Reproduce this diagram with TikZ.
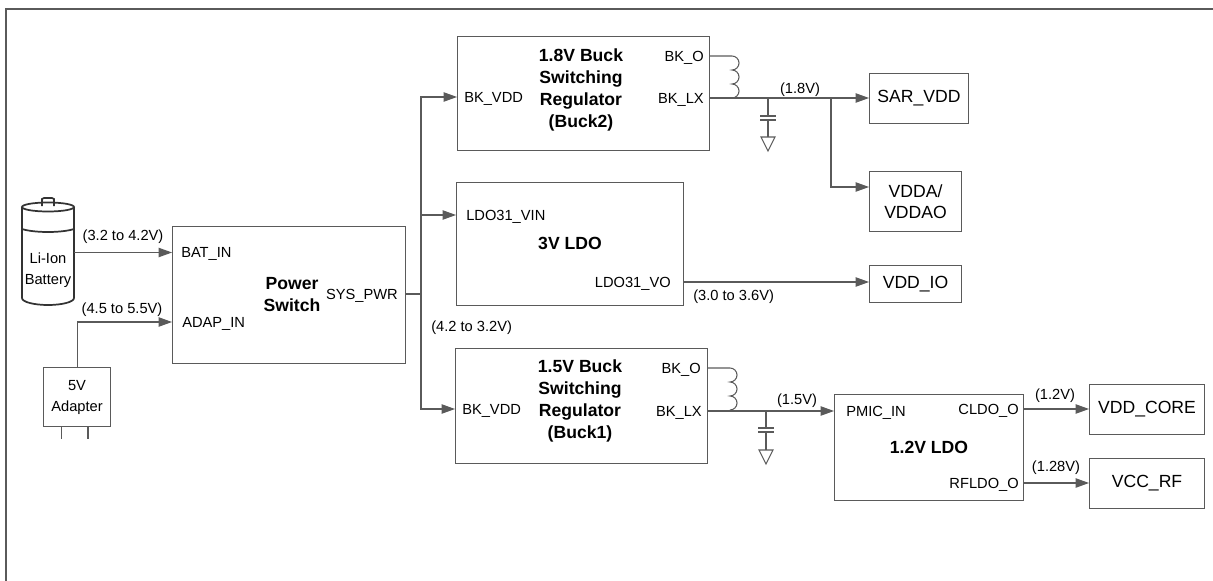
\documentclass[tikz,border=0pt]{standalone}
\usepackage{fontspec}
\setmainfont{Liberation Sans}
\usetikzlibrary{positioning,arrows.meta}
\definecolor{wirecol}{HTML}{5A5A5A}
\newcommand{\coilpath}{arc[start angle=-90,end angle=90,radius=7] arc[start angle=-90,end angle=90,radius=7] arc[start angle=-90,end angle=90,radius=7]}

\begin{document}
\begin{tikzpicture}[
                x=0.75pt, y=-0.75pt,
                box/.style={draw=wirecol, line width=0.8pt, anchor=north west, inner sep=0pt},
                loadbox/.style={box, align=center, font=\fontsize{13.2}{15.75}\selectfont},
                title/.style={align=center, inner sep=0pt, font=\fontsize{13.2}{16.5}\selectfont\bfseries},
                pinl/.style={anchor=west, inner sep=0pt, text height=8pt, text depth=0pt, font=\fontsize{11}{13}\selectfont},
                pinr/.style={pinl, anchor=east},
                volt/.style={inner sep=0pt, font=\fontsize{11}{13}\selectfont},
                small/.style={align=center, inner sep=0pt, font=\fontsize{11}{15.75}\selectfont},
                wire/.style={draw=wirecol, line width=0.8pt},
                cell/.style={draw=black!80, line width=1.3pt},
                arrow/.style={wire, -{Triangle[length=10pt,width=7pt]}}
            ]
                \useasboundingbox (0,0) rectangle (1213,581);
                \draw[wire] (6,581) -- (6,9) -- (1213,9);

                % Inputs
                \node[small, minimum width=39pt, minimum height=69pt] (battery) at (48,270) {Li-Ion\\Battery};
                \draw[cell, fill=white] (42,206) -- (42,199) -- (44,198) -- (52,198) -- (54,199) -- (54,206);
                \draw[cell] (48,207) ellipse [x radius=26, y radius=4.5];
                \draw[cell] (22,207) -- (22,298) arc[start angle=180,end angle=0,x radius=26,y radius=7] -- (74,207);
                \draw[cell] (22,229) .. controls (34,233) and (62,233) .. (74,229);
                \node[box, small, minimum width=50.25pt, minimum height=44.25pt] (adapter) at (43,367) {5V\\Adapter};
                \draw[wire] (61.5,426) -- (61.5,439) (88,426) -- (88,439);

                % Power switch
                \node[box, minimum width=174.75pt, minimum height=102.75pt] (pwr) at (172,226) {};
                \node[title] (pwrname) at (292,295) {Power\\Switch};
                \node[pinl] (batin) at (181,252.5) {BAT\_IN};
                \node[pinl] (adapin) at (182,322) {ADAP\_IN};
                \node[pinr] (syspwr) at (398,294) {SYS\_PWR};
                \node[volt] (vbat) at (123,237) {(3.2 to 4.2V)};
                \node[volt] (vadap) at (122,310) {(4.5 to 5.5V)};
                \node[volt, anchor=west] (vsys) at (431,328) {(4.2 to 3.2V)};

                \draw[arrow] (74,252.5) -- (pwr.west |- batin);
                \draw[arrow] (adapter.north) |- (pwr.west |- adapin);

                % Buck2
                \node[box, minimum width=189pt, minimum height=85.5pt] (buckb) at (457,36) {};
                \node[title] (buckbname) at (581,90) {1.8V Buck\\Switching\\Regulator\\(Buck2)};
                \node[pinl] (buckbvdd) at (464,97) {BK\_VDD};
                \node[pinr] (buckbo) at (704,56) {BK\_O};
                \node[pinr] (buckblx) at (704,98) {BK\_LX};
                \node[volt] (vbuckb) at (800,90) {(1.8V)};

                % 3V LDO
                \node[box, minimum width=170.25pt, minimum height=92.25pt] (ldoa) at (456,182) {};
                \node[title] (ldoaname) at (570,243) {3V LDO};
                \node[pinl] (ldoavin) at (466,215) {LDO31\_VIN};
                \node[pinr] (ldoavo) at (671,282) {LDO31\_VO};
                \node[volt, anchor=west] (vldoa) at (693,297) {(3.0 to 3.6V)};

                % Buck1
                \node[box, minimum width=189pt, minimum height=86.25pt] (bucka) at (455,348) {};
                \node[title] (buckaname) at (580,401) {1.5V Buck\\Switching\\Regulator\\(Buck1)};
                \node[pinl] (buckavdd) at (462,409) {BK\_VDD};
                \node[pinr] (buckao) at (701,368) {BK\_O};
                \node[pinr] (buckalx) at (702,411) {BK\_LX};
                \node[volt] (vbucka) at (797,401) {(1.5V)};

                % 1.2V LDO
                \node[box, minimum width=141.75pt, minimum height=79.5pt] (ldob) at (834,394) {};
                \node[title] (ldobname) at (929,447) {1.2V LDO};
                \node[pinl] (pmicin) at (846,411) {PMIC\_IN};
                \node[pinr] (cldoo) at (1019,409) {CLDO\_O};
                \node[pinr] (rfldoo) at (1019,483) {RFLDO\_O};
                \node[volt] (vcore) at (1055,396) {(1.2V)};
                \node[volt] (vrf) at (1056,468) {(1.28V)};

                % Loads
                \node[loadbox, minimum width=74.25pt, minimum height=37.5pt] (sar) at (869,73) {SAR\_VDD};
                \node[loadbox, minimum width=69pt, minimum height=45pt] (vdda) at (869,171) {VDDA/\\VDDAO};
                \node[loadbox, minimum width=69pt, minimum height=27.75pt] (vddio) at (869,265) {VDD\_IO};
                \node[loadbox, minimum width=86.25pt, minimum height=37.5pt] (vddcore) at (1089,384) {VDD\_CORE};
                \node[loadbox, minimum width=86.25pt, minimum height=37.5pt] (vccrf) at (1089,458) {VCC\_RF};

                % Supply bus
                \coordinate (bus) at (421,294);
                \draw[wire] (pwr.east |- bus) -- (bus);
                \draw[arrow] (bus) |- (buckb.west |- buckbvdd);
                \draw[arrow] (bus |- ldoavin) -- (ldoa.west |- ldoavin);
                \draw[arrow] (bus) |- (bucka.west |- buckavdd);

                % Buck2 output
                \draw[wire] (buckb.east |- buckbo) -- (732,56) \coilpath;
                \draw[arrow] (buckb.east |- buckblx) -- (sar.west |- buckblx);
                \coordinate (capb) at (768,98);
                \coordinate (tapb) at (831,98);
                \coordinate (vddain) at (869,187);
                \draw[arrow] (tapb) |- (vddain);
                \draw[wire] (capb) -- (768,116) (760,116) -- (776,116) (760,120) -- (776,120) (768,120) -- (768,137);
                \draw[wire] (761,137) -- (775,137) -- (768,151) -- cycle;

                % Buck1 output
                \draw[wire] (bucka.east |- buckao) -- (730,368) \coilpath;
                \draw[arrow] (bucka.east |- buckalx) -- (ldob.west |- buckalx);
                \coordinate (capa) at (766,411);
                \draw[wire] (capa) -- (766,428) (758,428) -- (774,428) (758,432) -- (774,432) (766,432) -- (766,450);
                \draw[wire] (759,450) -- (773,450) -- (766,464) -- cycle;

                % Other outputs
                \draw[arrow] (ldoa.east |- ldoavo) -- (vddio.west |- ldoavo);
                \draw[arrow] (ldob.east |- cldoo) -- (vddcore.west |- cldoo);
                \draw[arrow] (ldob.east |- rfldoo) -- (vccrf.west |- rfldoo);
            \end{tikzpicture}
\end{document}
